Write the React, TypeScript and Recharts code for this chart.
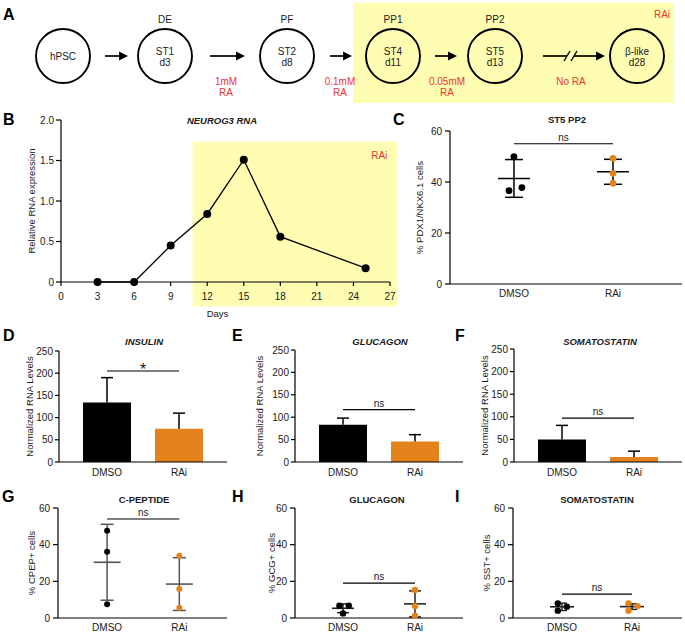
import React from 'react';
import {
  LineChart,
  Line,
  XAxis,
  YAxis,
  ReferenceArea,
  ReferenceLine,
  ComposedChart,
  Bar,
  Cell,
  Scatter,
  ErrorBar,
} from 'recharts';

const FONT = '"Liberation Sans", Arial, Helvetica, sans-serif';
const YELLOW = '#FFFDB2';
const ORANGE = '#E4821C';
const RED = '#EE3333';
const INK = '#1a1a1a';

// ---------- Panel A (protocol scheme) ----------
const stageNames = ['hPSC', 'ST1', 'ST2', 'ST4', 'ST5', 'β-like'];
const stageDays = ['', 'd3', 'd8', 'd11', 'd13', 'd28'];
const stageTypes = ['', 'DE', 'PF', 'PP1', 'PP2', ''];
const raDoses = [['1mM', 'RA'], ['0.1mM', 'RA'], ['0.05mM', 'RA'], ['No RA']];

// ---------- Panel B ----------
const neurogDays = [3, 6, 9, 12, 15, 18, 25];
const neurogValues = [0, 0, 0.45, 0.84, 1.51, 0.56, 0.17];
const dayTicks = [0, 3, 6, 9, 12, 15, 18, 21, 24, 27];
const rnaTicks = [0, 0.5, 1, 1.5, 2];
const raiWindowDays = [10.8, 27.6];

// ---------- groups ----------
const groups = ['DMSO', 'RAi'];

// ---------- Panel C ----------
const cDmsoValues = [49.9, 36.6, 37.8];
const cDmsoSlots = [1.0, 0.95, 1.08];
const cRaiValues = [49.3, 43.4, 39.5];
const cRaiSlots = [2.0, 2.0, 2.0];
const cMeans = [41.4, 44.0];
const cSDs = [7.4, 4.9];
const cSig = 55;

// ---------- Panels D-F (qPCR bars) ----------
const barTicks = [0, 50, 100, 150, 200, 250];
const insulinMeans = [134, 75];
const insulinSDs = [56, 35];
const insulinSig = 205;
const glucagonMeans = [83, 46];
const glucagonSDs = [15, 15];
const glucagonSig = 117;
const sstMeans = [50, 11];
const sstSDs = [31, 13];
const sstSig = 97;

// ---------- Panels G-I (% cells) ----------
const pctTicks = [0, 20, 40, 60];
const gDmsoValues = [47.6, 36.2, 7.5];
const gDmsoSlots = [1, 1, 1];
const gRaiValues = [34.0, 15.8, 5.6];
const gRaiSlots = [2, 2, 2];
const gMeans = [30.4, 18.5];
const gSDs = [20.7, 14.4];
const gSig = 54;

const hDmsoValues = [6.7, 6.7, 2.5];
const hDmsoSlots = [0.95, 1.08, 1.0];
const hRaiValues = [15.3, 6.5, 1.3];
const hRaiSlots = [2, 2, 2];
const hMeans = [5.3, 7.7];
const hSDs = [2.4, 7.1];
const hSig = 19;

const iDmsoValues = [8.0, 6.2, 4.0];
const iDmsoSlots = [0.94, 1.07, 0.94];
const iRaiValues = [8.0, 6.5, 4.0];
const iRaiSlots = [1.95, 2.08, 1.95];
const iMeans = [6.1, 6.2];
const iSDs = [2.0, 1.5];
const iSig = 13;

const tickStyle = { fontSize: 10, fill: INK, fontFamily: FONT };
const axisLine = { stroke: '#000', strokeWidth: 1.2 };

function Scheme() {
  const cx = [63, 165, 287, 393, 495, 637];
  const cy = 56;
  const r = 27;
  const arrows = [
    [105, 128],
    [210, 245],
    [330, 352],
    [435, 457],
    [543, 605],
  ];
  const doseX = [226, 340, 447, 571];
  return (
    <svg width={685} height={110} style={{ position: 'absolute', left: 0, top: 0 }}>
      <rect x={353} y={3} width={321} height={100} fill={YELLOW} />
      <text x={662} y={18} textAnchor="middle" fontSize={10} fill={RED} fontFamily={FONT}>RAi</text>
      {stageNames.map((n, i) => (
        <g key={n}>
          <circle cx={cx[i]} cy={cy} r={r} fill="none" stroke="#000" strokeWidth={1.9} />
          {stageDays[i] ? (
            <>
              <text x={cx[i]} y={cy - 1} textAnchor="middle" fontSize={10} fill={INK} fontFamily={FONT}>{n}</text>
              <text x={cx[i]} y={cy + 10} textAnchor="middle" fontSize={10} fill={INK} fontFamily={FONT}>{stageDays[i]}</text>
            </>
          ) : (
            <text x={cx[i]} y={cy + 4} textAnchor="middle" fontSize={10} fill={INK} fontFamily={FONT}>{n}</text>
          )}
          {stageTypes[i] && (
            <text x={cx[i]} y={23} textAnchor="middle" fontSize={10} fill={INK} fontFamily={FONT}>{stageTypes[i]}</text>
          )}
        </g>
      ))}
      {arrows.map(([a, b], i) => (
        <g key={i}>
          {i === 4 ? (
            <>
              <line x1={a} x2={567} y1={cy} y2={cy} stroke="#000" strokeWidth={1.7} />
              <line x1={574} x2={b - 8} y1={cy} y2={cy} stroke="#000" strokeWidth={1.7} />
              <line x1={564} x2={570} y1={cy + 5} y2={cy - 5} stroke="#000" strokeWidth={1.4} />
              <line x1={571} x2={577} y1={cy + 5} y2={cy - 5} stroke="#000" strokeWidth={1.4} />
            </>
          ) : (
            <line x1={a} x2={b - 8} y1={cy} y2={cy} stroke="#000" strokeWidth={1.7} />
          )}
          <polygon points={`${b},${cy} ${b - 9},${cy - 4.5} ${b - 9},${cy + 4.5}`} fill="#000" />
        </g>
      ))}
      {raDoses.map((lines, i) =>
        lines.map((t, j) => (
          <text key={`${i}-${j}`} x={doseX[i]} y={85 + j * 11} textAnchor="middle" fontSize={10} fill={RED} fontFamily={FONT}>
            {t}
          </text>
        ))
      )}
    </svg>
  );
}

function PanelB() {
  const data = neurogDays.map((d, i) => ({ day: d, value: neurogValues[i] }));
  return (
    <div style={{ position: 'absolute', left: 0, top: 100 }}>
      <LineChart width={400} height={230} data={data} margin={{ top: 20, right: 10, left: 21, bottom: 12 }}>
        <ReferenceArea
          x1={raiWindowDays[0]}
          x2={raiWindowDays[1]}
          y1={-0.3}
          y2={1.73}
          fill={YELLOW}
          fillOpacity={1}
          stroke="none"
          ifOverflow="visible"
          label={{ value: 'RAi', position: 'insideTopRight', offset: 10, fill: RED, fontSize: 10, fontFamily: FONT }}
        />
        <XAxis
          dataKey="day"
          type="number"
          domain={[0, 27]}
          ticks={dayTicks}
          interval={0}
          height={36}
          tick={tickStyle}
          tickSize={4}
          tickMargin={7}
          axisLine={axisLine}
          tickLine={axisLine}
          label={{ value: 'Days', position: 'insideBottom', offset: 1, dx: -8, fontSize: 9.5, fill: INK, fontFamily: FONT }}
        />
        <YAxis
          type="number"
          domain={[0, 2]}
          ticks={rnaTicks}
          interval={0}
          width={40}
          tick={tickStyle}
          tickSize={5}
          tickMargin={2}
          axisLine={axisLine}
          tickLine={axisLine}
          tickFormatter={(v: number) => (v === 0 ? '0' : v.toFixed(1))}
          label={{
            value: 'Relative RNA expression',
            angle: -90,
            position: 'insideLeft',
            offset: 11,
            style: { textAnchor: 'middle' },
            fontSize: 9.5,
            fill: INK,
            fontFamily: FONT,
          }}
        />
        <Line
          dataKey="value"
          stroke="#000"
          strokeWidth={1.3}
          dot={{ r: 4, fill: '#000', stroke: '#000', strokeWidth: 0 }}
          isAnimationActive={false}
        />
      </LineChart>
    </div>
  );
}

const errShape = (p: any) => {
  const cx = p.x + p.width / 2;
  return (
    <g>
      <line x1={cx} x2={cx} y1={p.y} y2={p.y + p.height} stroke="#000" strokeWidth={1.5} />
      <line x1={cx - 6} x2={cx + 6} y1={p.y} y2={p.y} stroke="#000" strokeWidth={1.5} />
    </g>
  );
};

function BarPanel(props: any) {
  const { left, top, width, height, margin, means, sds, sig, sigLabel, sigSize, sigOffset, labelOffset } = props;
  const data = groups.map((g, i) => ({ name: g, mean: means[i], err: sds[i] }));
  return (
    <div style={{ position: 'absolute', left, top }}>
      <ComposedChart width={width} height={height} margin={margin} data={data}>
        <XAxis
          dataKey="name"
          padding={{ left: 12, right: 12 }}
          height={20}
          tick={tickStyle}
          tickLine={false}
          tickSize={4}
          tickMargin={3}
          axisLine={axisLine}
        />
        <YAxis
          type="number"
          domain={[0, 250]}
          ticks={barTicks}
          interval={0}
          width={40}
          tick={tickStyle}
          tickSize={4}
          tickMargin={2}
          axisLine={axisLine}
          tickLine={axisLine}
          label={{
            value: 'Normalized RNA Levels',
            angle: -90,
            position: 'insideLeft',
            offset: labelOffset,
            style: { textAnchor: 'middle' },
            fontSize: 9.5,
            fill: INK,
            fontFamily: FONT,
          }}
        />
        <Bar dataKey="mean" stackId="s" barSize={48} isAnimationActive={false}>
          {data.map((d, i) => (
            <Cell key={d.name} fill={i === 0 ? '#000' : ORANGE} />
          ))}
        </Bar>
        <Bar dataKey="err" stackId="s" barSize={48} shape={errShape} isAnimationActive={false} />
        <ReferenceLine
          segment={[
            { x: 'DMSO', y: sig },
            { x: 'RAi', y: sig },
          ]}
          stroke="#000"
          strokeWidth={1.2}
          label={{ value: sigLabel, position: 'top', offset: sigOffset, fontSize: sigSize, fill: INK, fontFamily: FONT }}
        />
      </ComposedChart>
    </div>
  );
}

const meanShape = (hw: number, color: string) => (p: any) => (
  <line x1={p.cx - hw} x2={p.cx + hw} y1={p.cy} y2={p.cy} stroke={color} strokeWidth={1.6} />
);
const dotShape = (r: number, color: string) => (p: any) => <circle cx={p.cx} cy={p.cy} r={r} fill={color} />;

function DotPanel(props: any) {
  const {
    left, top, width, height, margin, domain, yLabel, labelOffset,
    dmso, dmsoX, rai, raiX, means, sds, sig, lineColor, meanHalf, capHalf, dotR, xHeight,
  } = props;
  const dmsoPts = dmso.map((v: number, i: number) => ({ x: dmsoX[i], y: v }));
  const raiPts = rai.map((v: number, i: number) => ({ x: raiX[i], y: v }));
  const summary = means.map((m: number, i: number) => ({ x: i + 1, y: m, err: sds[i] }));
  return (
    <div style={{ position: 'absolute', left, top }}>
      <ComposedChart width={width} height={height} margin={margin}>
        <XAxis
          type="number"
          dataKey="x"
          domain={domain}
          ticks={[1, 2]}
          interval={0}
          allowDataOverflow
          height={xHeight}
          tick={tickStyle}
          tickLine={false}
          tickSize={4}
          tickMargin={2}
          axisLine={axisLine}
          tickFormatter={(v: number) => groups[Math.round(v) - 1]}
        />
        <YAxis
          type="number"
          dataKey="y"
          domain={[0, 60]}
          ticks={pctTicks}
          interval={0}
          width={40}
          tick={tickStyle}
          tickSize={5}
          tickMargin={3}
          axisLine={axisLine}
          tickLine={axisLine}
          label={{
            value: yLabel,
            angle: -90,
            position: 'insideLeft',
            offset: labelOffset,
            style: { textAnchor: 'middle' },
            fontSize: 9.5,
            fill: INK,
            fontFamily: FONT,
          }}
        />
        <ReferenceLine
          segment={[
            { x: 1, y: sig },
            { x: 2, y: sig },
          ]}
          stroke="#000"
          strokeWidth={1.2}
          label={{ value: 'ns', position: 'top', offset: 3, fontSize: 10, fill: INK, fontFamily: FONT }}
        />
        <Scatter data={summary} shape={meanShape(meanHalf, lineColor)} isAnimationActive={false}>
          <ErrorBar dataKey="err" direction="y" width={capHalf} stroke={lineColor} strokeWidth={1.5} />
        </Scatter>
        <Scatter data={dmsoPts} shape={dotShape(dotR, '#000')} isAnimationActive={false} />
        <Scatter data={raiPts} shape={dotShape(dotR, ORANGE)} isAnimationActive={false} />
      </ComposedChart>
    </div>
  );
}

function Overlay() {
  const letters: [string, number, number][] = [
    ['A', 3, 20],
    ['B', 3, 125],
    ['C', 393, 125],
    ['D', 3, 341],
    ['E', 232, 341],
    ['F', 455, 341],
    ['G', 2, 502],
    ['H', 232, 502],
    ['I', 455, 502],
  ];
  const titles: [string, number, number, boolean][] = [
    ['NEUROG3 RNA', 222, 124, true],
    ['ST5 PP2', 567, 123, false],
    ['INSULIN', 144, 345, true],
    ['GLUCAGON', 380, 345, true],
    ['SOMATOSTATIN', 600, 345, true],
    ['C-PEPTIDE', 144, 503, false],
    ['GLUCAGON', 377, 503, false],
    ['SOMATOSTATIN', 597, 503, false],
  ];
  return (
    <svg width={685} height={634} style={{ position: 'absolute', left: 0, top: 0, pointerEvents: 'none' }}>
      {letters.map(([t, x, y]) => (
        <text key={t} x={x} y={y} fontSize={16} fontWeight="bold" fill="#000" fontFamily={FONT}>{t}</text>
      ))}
      {titles.map(([t, x, y, it], i) => (
        <text key={i} x={x} y={y} textAnchor="middle" fontSize={9.5} fontWeight="bold" fontStyle={it ? 'italic' : 'normal'} fill={INK} fontFamily={FONT}>
          {t}
        </text>
      ))}
    </svg>
  );
}

export default function App() {
  return (
    <div style={{ position: 'absolute', left: 0, top: 0, width: 685, height: 634, background: '#fff', fontFamily: FONT, overflow: 'hidden' }}>
      <Scheme />
      <PanelB />
      <DotPanel
        left={395} top={100} width={290} height={215}
        margin={{ top: 31, right: 3, left: 15, bottom: 6 }}
        domain={[0.354, 2.697]} xHeight={25}
        yLabel="% PDX1/NKX6.1 cells" labelOffset={10}
        dmso={cDmsoValues} dmsoX={cDmsoSlots} rai={cRaiValues} raiX={cRaiSlots}
        means={cMeans} sds={cSDs} sig={cSig}
        lineColor="#000" meanHalf={16} capHalf={9} dotR={3.4}
      />
      <BarPanel
        left={0} top={325} width={235} height={160}
        margin={{ top: 26, right: 8, left: 19, bottom: 3 }}
        means={insulinMeans} sds={insulinSDs} sig={insulinSig}
        sigLabel="*" sigSize={16} sigOffset={-4} labelOffset={11}
      />
      <BarPanel
        left={235} top={325} width={235} height={160}
        margin={{ top: 25, right: 7, left: 20, bottom: 3 }}
        means={glucagonMeans} sds={glucagonSDs} sig={glucagonSig}
        sigLabel="ns" sigSize={10} sigOffset={3} labelOffset={5}
      />
      <BarPanel
        left={470} top={325} width={215} height={160}
        margin={{ top: 24, right: 3, left: 4, bottom: 3 }}
        means={sstMeans} sds={sstSDs} sig={sstSig}
        sigLabel="ns" sigSize={10} sigOffset={3} labelOffset={11}
      />
      <DotPanel
        left={0} top={480} width={235} height={154}
        margin={{ top: 28, right: 8, left: 18, bottom: 0 }}
        domain={[0.32, 2.66]} xHeight={16}
        yLabel="% CPEP+ cells" labelOffset={14}
        dmso={gDmsoValues} dmsoX={gDmsoSlots} rai={gRaiValues} raiX={gRaiSlots}
        means={gMeans} sds={gSDs} sig={gSig}
        lineColor="#555" meanHalf={13.5} capHalf={6.5} dotR={3}
      />
      <DotPanel
        left={235} top={480} width={235} height={154}
        margin={{ top: 28, right: 7, left: 20, bottom: 0 }}
        domain={[0.333, 2.667]} xHeight={16}
        yLabel="% GCG+ cells" labelOffset={17}
        dmso={hDmsoValues} dmsoX={hDmsoSlots} rai={hRaiValues} raiX={hRaiSlots}
        means={hMeans} sds={hSDs} sig={hSig}
        lineColor="#222" meanHalf={11} capHalf={6} dotR={3.2}
      />
      <DotPanel
        left={470} top={480} width={215} height={154}
        margin={{ top: 28, right: 3, left: 3, bottom: 0 }}
        domain={[0.3, 2.714]} xHeight={16}
        yLabel="% SST+ cells" labelOffset={14}
        dmso={iDmsoValues} dmsoX={iDmsoSlots} rai={iRaiValues} raiX={iRaiSlots}
        means={iMeans} sds={iSDs} sig={iSig}
        lineColor="#222" meanHalf={12} capHalf={5} dotR={3.2}
      />
      <Overlay />
    </div>
  );
}
